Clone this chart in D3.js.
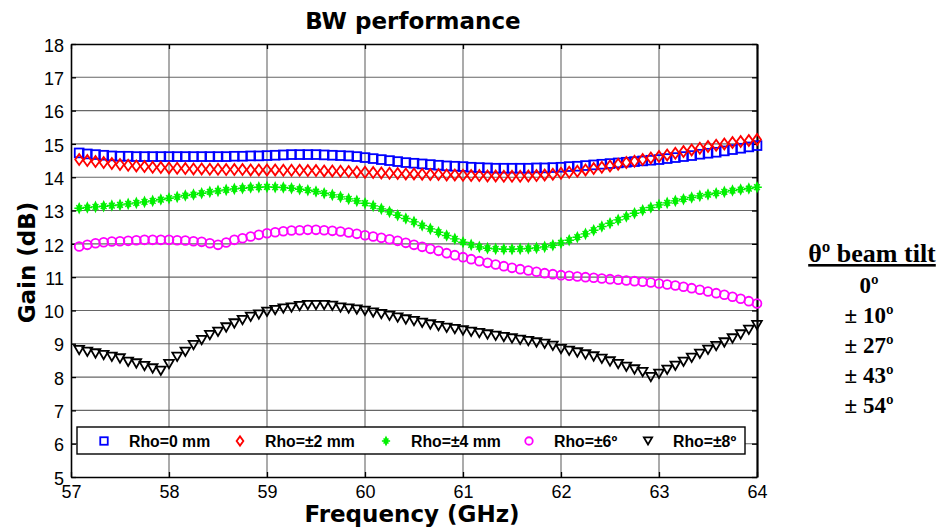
<!DOCTYPE html>
<html>
<head>
<meta charset="utf-8">
<script src="https://d3js.org/d3.v7.min.js"></script>
<style>
  body { margin: 0; background: #fff; }
  svg { display: block; }
</style>
</head>
<body>
<div id="chart"></div>
<script>
// frequency points (GHz), 1/12 GHz apart
var freqs = d3.range(1, 85).map(function (k) { return 57 + k / 12; });

var xTicks = [57, 58, 59, 60, 61, 62, 63, 64];
var yTicks = [5, 6, 7, 8, 9, 10, 11, 12, 13, 14, 15, 16, 17, 18];

var seriesNames = ["Rho=0 mm", "Rho=±2 mm", "Rho=±4 mm", "Rho=±6º", "Rho=±8º"];
var tiltLabels = ["0º", "± 10º", "± 27º", "± 43º", "± 54º"];

var rho0 = [
  14.73, 14.70, 14.68, 14.66, 14.64, 14.63, 14.63, 14.62, 14.62, 14.62, 14.62, 14.62,
  14.62, 14.62, 14.62, 14.62, 14.62, 14.62, 14.62, 14.63, 14.63, 14.64, 14.64, 14.65,
  14.66, 14.67, 14.68, 14.68, 14.68, 14.68, 14.67, 14.66, 14.65, 14.64, 14.62, 14.59,
  14.56, 14.53, 14.50, 14.47, 14.44, 14.42, 14.40, 14.38, 14.36, 14.34, 14.33, 14.32,
  14.30, 14.29, 14.28, 14.27, 14.27, 14.27, 14.27, 14.27, 14.28, 14.28, 14.29, 14.30,
  14.32, 14.33, 14.35, 14.37, 14.39, 14.41, 14.43, 14.45, 14.47, 14.49, 14.51, 14.53,
  14.56, 14.59, 14.62, 14.65, 14.69, 14.72, 14.75, 14.79, 14.83, 14.87, 14.91, 14.95
];
var rho2 = [
  14.53, 14.50, 14.47, 14.44, 14.41, 14.38, 14.36, 14.34, 14.32, 14.30, 14.29, 14.28,
  14.27, 14.26, 14.25, 14.25, 14.24, 14.24, 14.23, 14.23, 14.23, 14.22, 14.22, 14.22,
  14.22, 14.21, 14.21, 14.21, 14.20, 14.20, 14.19, 14.19, 14.18, 14.17, 14.16, 14.15,
  14.14, 14.13, 14.12, 14.11, 14.10, 14.10, 14.09, 14.08, 14.08, 14.07, 14.07, 14.06,
  14.05, 14.05, 14.04, 14.04, 14.03, 14.03, 14.03, 14.04, 14.05, 14.07, 14.09, 14.12,
  14.15, 14.18, 14.22, 14.26, 14.30, 14.34, 14.39, 14.44, 14.48, 14.53, 14.58, 14.62,
  14.67, 14.72, 14.77, 14.82, 14.87, 14.92, 14.96, 15.00, 15.04, 15.07, 15.10, 15.13
];
var rho4 = [
  13.07, 13.09, 13.11, 13.13, 13.15, 13.17, 13.20, 13.23, 13.26, 13.29, 13.33, 13.37,
  13.41, 13.45, 13.48, 13.52, 13.56, 13.59, 13.62, 13.65, 13.67, 13.69, 13.70, 13.71,
  13.70, 13.69, 13.67, 13.64, 13.61, 13.57, 13.52, 13.47, 13.41, 13.35, 13.29, 13.22,
  13.14, 13.05, 12.96, 12.86, 12.76, 12.66, 12.55, 12.45, 12.35, 12.25, 12.15, 12.05,
  11.97, 11.91, 11.87, 11.85, 11.84, 11.84, 11.85, 11.86, 11.88, 11.91, 11.96, 12.03,
  12.11, 12.20, 12.30, 12.41, 12.52, 12.62, 12.72, 12.82, 12.92, 13.01, 13.09, 13.17,
  13.23, 13.29, 13.34, 13.39, 13.44, 13.48, 13.52, 13.56, 13.60, 13.63, 13.66, 13.70
];
var rho6 = [
  11.92, 11.97, 12.02, 12.05, 12.07, 12.08, 12.09, 12.11, 12.12, 12.12, 12.12, 12.12,
  12.11, 12.10, 12.08, 12.06, 12.02, 11.97, 12.04, 12.12, 12.17, 12.22, 12.27, 12.32,
  12.35, 12.38, 12.40, 12.41, 12.42, 12.42, 12.41, 12.39, 12.37, 12.34, 12.30, 12.26,
  12.22, 12.18, 12.14, 12.09, 12.03, 11.97, 11.91, 11.85, 11.79, 11.72, 11.66, 11.60,
  11.54, 11.48, 11.43, 11.38, 11.33, 11.28, 11.24, 11.20, 11.16, 11.12, 11.09, 11.06,
  11.04, 11.02, 11.00, 10.98, 10.96, 10.94, 10.92, 10.90, 10.88, 10.86, 10.84, 10.81,
  10.78, 10.75, 10.71, 10.67, 10.62, 10.57, 10.52, 10.47, 10.41, 10.35, 10.28, 10.21
];
var rho8 = [
  8.81, 8.76, 8.71, 8.66, 8.61, 8.56, 8.46, 8.41, 8.33, 8.26, 8.19, 8.39,
  8.61, 8.76, 8.96, 9.11, 9.26, 9.36, 9.49, 9.61, 9.71, 9.81, 9.88, 9.96,
  10.01, 10.06, 10.09, 10.13, 10.16, 10.16, 10.16, 10.14, 10.09, 10.06, 10.03, 9.99,
  9.94, 9.89, 9.84, 9.79, 9.73, 9.68, 9.63, 9.58, 9.53, 9.48, 9.44, 9.40,
  9.36, 9.32, 9.28, 9.24, 9.20, 9.16, 9.12, 9.08, 9.04, 9.00, 8.94, 8.84,
  8.79, 8.74, 8.68, 8.62, 8.55, 8.47, 8.39, 8.31, 8.23, 8.15, 8.00, 8.10,
  8.22, 8.34, 8.46, 8.58, 8.70, 8.82, 8.93, 9.04, 9.16, 9.28, 9.42, 9.56
];

var seriesValues = [rho0, rho2, rho4, rho6, rho8];
var seriesColors = ["#0000ff", "#ff0000", "#00f000", "#ff00ff", "#000000"];
var seriesMarkers = ["square", "diamond", "star", "circle", "triangle"];

var width = 948, height = 531;
var margin = { top: 44, right: 191, bottom: 54, left: 71 };
var pw = width - margin.left - margin.right;
var ph = height - margin.top - margin.bottom;

var svg = d3.select("#chart").append("svg")
  .attr("width", width)
  .attr("height", height);

var x = d3.scaleLinear().domain([57, 64]).range([0, pw]);
var y = d3.scaleLinear().domain([5, 18]).range([ph, 0]);

var g = svg.append("g").attr("transform", "translate(" + margin.left + "," + margin.top + ")");

// grid
g.append("g").selectAll("line").data(xTicks.slice(1, -1)).enter().append("line")
  .attr("x1", function (d) { return x(d); }).attr("x2", function (d) { return x(d); })
  .attr("y1", 0).attr("y2", ph)
  .attr("stroke", "#666").attr("stroke-width", 1.1);
g.append("g").selectAll("line").data(yTicks.slice(1, -1)).enter().append("line")
  .attr("y1", function (d) { return y(d); }).attr("y2", function (d) { return y(d); })
  .attr("x1", 0).attr("x2", pw)
  .attr("stroke", "#666").attr("stroke-width", 1.1);

// axes with inward ticks on all sides
var axisFont = "'Liberation Sans', Arial, sans-serif";
var xAxis = g.append("g").attr("transform", "translate(0," + ph + ")")
  .call(d3.axisBottom(x).tickValues(xTicks).tickFormat(d3.format("d"))
    .tickSizeInner(-5).tickSizeOuter(0).tickPadding(9));
var yAxis = g.append("g")
  .call(d3.axisLeft(y).tickValues(yTicks).tickFormat(d3.format("d"))
    .tickSizeInner(-5).tickSizeOuter(0).tickPadding(7));
var xTop = g.append("g")
  .call(d3.axisTop(x).tickValues(xTicks).tickSizeInner(-5).tickSizeOuter(0).tickFormat(""));
var yRight = g.append("g").attr("transform", "translate(" + pw + ",0)")
  .call(d3.axisRight(y).tickValues(yTicks).tickSizeInner(-5).tickSizeOuter(0).tickFormat(""));

[xAxis, yAxis, xTop, yRight].forEach(function (a) {
  a.selectAll("path").attr("stroke", "#000").attr("stroke-width", 1.6);
  a.selectAll("line").attr("stroke", "#000").attr("stroke-width", 1.3);
  a.selectAll("text").attr("font-family", axisFont).attr("font-size", 18).attr("fill", "#000");
});
yRight.select("path").attr("stroke-width", 2.2);
xAxis.selectAll("text").attr("dy", "0.66em");
yAxis.selectAll("text").attr("dy", "0.4em");

// markers
function drawMarker(sel, type, color, s) {
  if (type === "square") {
    sel.append("rect").attr("x", -s / 2).attr("y", -s / 2).attr("width", s).attr("height", s)
      .attr("fill", "none").attr("stroke", color).attr("stroke-width", 1.8);
  } else if (type === "diamond") {
    sel.append("path").attr("d", "M0," + (-s * 0.62) + "L" + (s * 0.45) + ",0L0," + (s * 0.62) + "L" + (-s * 0.45) + ",0Z")
      .attr("fill", "none").attr("stroke", color).attr("stroke-width", 1.8);
  } else if (type === "star") {
    var r = s * 0.55;
    sel.append("path").attr("d", "M0," + (-r) + "L" + (r * 0.45) + ",0L0," + r + "L" + (-r * 0.45) + ",0Z")
      .attr("fill", color).attr("stroke", color).attr("stroke-width", 1.2);
    sel.append("path").attr("d", "M" + (-r) + ",0H" + r + "M" + (-r * 0.6) + "," + (-r * 0.6) + "L" + (r * 0.6) + "," + (r * 0.6) +
        "M" + (-r * 0.6) + "," + (r * 0.6) + "L" + (r * 0.6) + "," + (-r * 0.6))
      .attr("fill", "none").attr("stroke", color).attr("stroke-width", 1.4);
  } else if (type === "circle") {
    sel.append("circle").attr("r", s / 2).attr("fill", "none").attr("stroke", color).attr("stroke-width", 1.8);
  } else if (type === "triangle") {
    var h = s * 0.95;
    sel.append("path").attr("d", "M" + (-s * 0.55) + "," + (-h / 2) + "H" + (s * 0.55) + "L0," + (h / 2) + "Z")
      .attr("fill", "none").attr("stroke", color).attr("stroke-width", 1.8).attr("stroke-linejoin", "miter");
  }
}

seriesValues.forEach(function (vals, si) {
  var sg = g.append("g");
  sg.selectAll("g").data(vals).enter().append("g")
    .attr("transform", function (d, i) { return "translate(" + x(freqs[i]) + "," + y(d) + ")"; })
    .each(function () { drawMarker(d3.select(this), seriesMarkers[si], seriesColors[si], 8.8); });
});

// legend
var legX = [104, 240, 386, 529, 648];
var lg = g.append("g");
lg.append("rect")
  .attr("x", 77 - margin.left).attr("y", 427 - margin.top)
  .attr("width", 745 - 77).attr("height", 27)
  .attr("fill", "#fff").attr("stroke", "#000").attr("stroke-width", 1.4);
seriesNames.forEach(function (name, i) {
  var cy = 441 - margin.top;
  var m = lg.append("g").attr("transform", "translate(" + (legX[i] - margin.left) + "," + cy + ")");
  drawMarker(m, seriesMarkers[i], seriesColors[i], 7.5);
  lg.append("text")
    .attr("x", legX[i] - margin.left + 25).attr("y", cy).attr("dy", "0.36em")
    .attr("font-family", axisFont).attr("font-weight", "bold").attr("font-size", 15.8)
    .text(name);
});

// titles
var titleFont = "'DejaVu Sans', Verdana, sans-serif";
svg.append("text")
  .attr("x", 413).attr("y", 29)
  .attr("text-anchor", "middle")
  .attr("font-family", titleFont).attr("font-weight", "bold").attr("font-size", 23)
  .text("BW performance");
svg.append("text")
  .attr("x", 412).attr("y", 522)
  .attr("text-anchor", "middle")
  .attr("font-family", titleFont).attr("font-weight", "bold").attr("font-size", 23)
  .text("Frequency (GHz)");
svg.append("text")
  .attr("transform", "translate(35," + (margin.top + ph / 2 + 2) + ")rotate(-90)")
  .attr("text-anchor", "middle")
  .attr("font-family", titleFont).attr("font-weight", "bold").attr("font-size", 23)
  .text("Gain (dB)");

// beam tilt annotation
var serif = "'Liberation Serif', 'Times New Roman', serif";
var ann = svg.append("g");
ann.append("text")
  .attr("x", 872).attr("y", 262)
  .attr("text-anchor", "middle")
  .attr("font-family", serif).attr("font-weight", "bold").attr("font-size", 26)
  .attr("text-decoration", "underline")
  .text("θº beam tilt");
tiltLabels.forEach(function (t, i) {
  ann.append("text")
    .attr("x", 869).attr("y", 293 + i * 30)
    .attr("text-anchor", "middle")
    .attr("font-family", serif).attr("font-weight", "bold").attr("font-size", 23)
    .text(t);
});
</script>
</body>
</html>
